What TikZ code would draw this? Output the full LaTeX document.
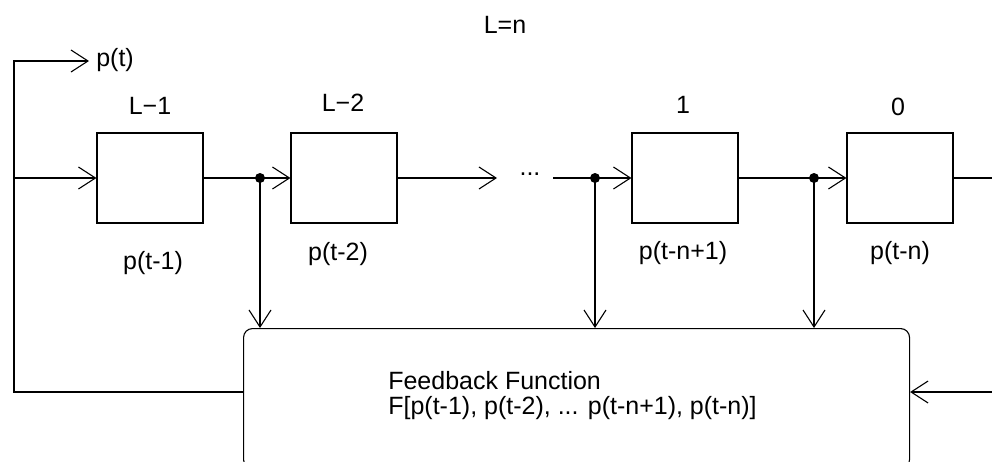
\documentclass[tikz,border=0pt]{standalone}
\usepackage{fontspec}
\setmainfont{Liberation Sans}
\usetikzlibrary{arrows.meta}
\begin{document}
\begin{tikzpicture}[x=1pt,y=1pt,yscale=-1,line width=1.1pt,
  every node/.style={font=\fontsize{25}{29}\selectfont},
  reg/.style={draw,minimum width=106pt,minimum height=90pt,inner sep=0pt},
  lbl/.style={inner sep=0.75pt},
  arr/.style={-{Straight Barb[length=17pt,width=22pt,line width=1.1pt]}},
  tap/.style={circle,fill=black,inner sep=0pt,minimum size=10pt}]
\clip (0,0) rectangle (992,461);
\node[reg] (r1) at (150,178) {};
\node[reg] (r2) at (344,178) {};
\node[reg] (r3) at (685,178) {};
\node[reg] (r4) at (900,178) {};
\node[draw,rounded corners=9pt,minimum width=666pt,minimum height=140pt,anchor=north west] (fb) at (243,328) {};
\node[lbl] (top) at (505,25) {L=n};
\node[lbl] (n1) at (150,106) {L−1};
\node[lbl] (n2) at (343,103) {L−2};
\node[lbl] (n3) at (683,105) {1};
\node[lbl] (n4) at (898,107) {0};
\node[lbl,anchor=west] (pt) at (95,60) {p(t)};
\node[lbl] (p1) at (153,263) {p(t-1)};
\node[lbl] (p2) at (338,254) {p(t-2)};
\node[lbl] (p3) at (683,253) {p(t-n+1)};
\node[lbl] (p4) at (900,253) {p(t-n)};
\node[lbl] (dots) at (530,174) {...};
\node[lbl,anchor=west] (fbt) at (387,381) {Feedback Function};
\node[lbl,anchor=west] (fbf) at (387,408) {F[p(t-1), p(t-2), ... p(t-n+1), p(t-n)]};
\node[tap] (d1) at (260,178) {};
\node[tap] (d2) at (595,178) {};
\node[tap] (d3) at (814,178) {};
\coordinate (lo) at (14,392);
\coordinate (lt) at (14,61);
\coordinate (li) at (14,178);
\coordinate (gapa) at (497,178);
\coordinate (gapb) at (553,178);
\coordinate (ro) at (998,178);
\coordinate (rb) at (998,392);
\draw[arr,shorten >=6pt] (fb.west |- lo) -- (lo) -- (lt) -- (pt.west |- lt);
\draw[arr] (li) -- (r1.west);
\draw[arr] (r1.east) -- (r2.west);
\draw[arr] (r2.east) -- (gapa);
\draw[arr] (gapb) -- (r3.west);
\draw[arr] (r3.east) -- (r4.west);
\draw (r4.east) -- (ro) -- (rb);
\draw[arr] (rb) -- (fb.east |- rb);
\foreach \d in {d1,d2,d3}
  \draw[arr] (\d.center) -- (\d |- fb.north);
\end{tikzpicture}
\end{document}
